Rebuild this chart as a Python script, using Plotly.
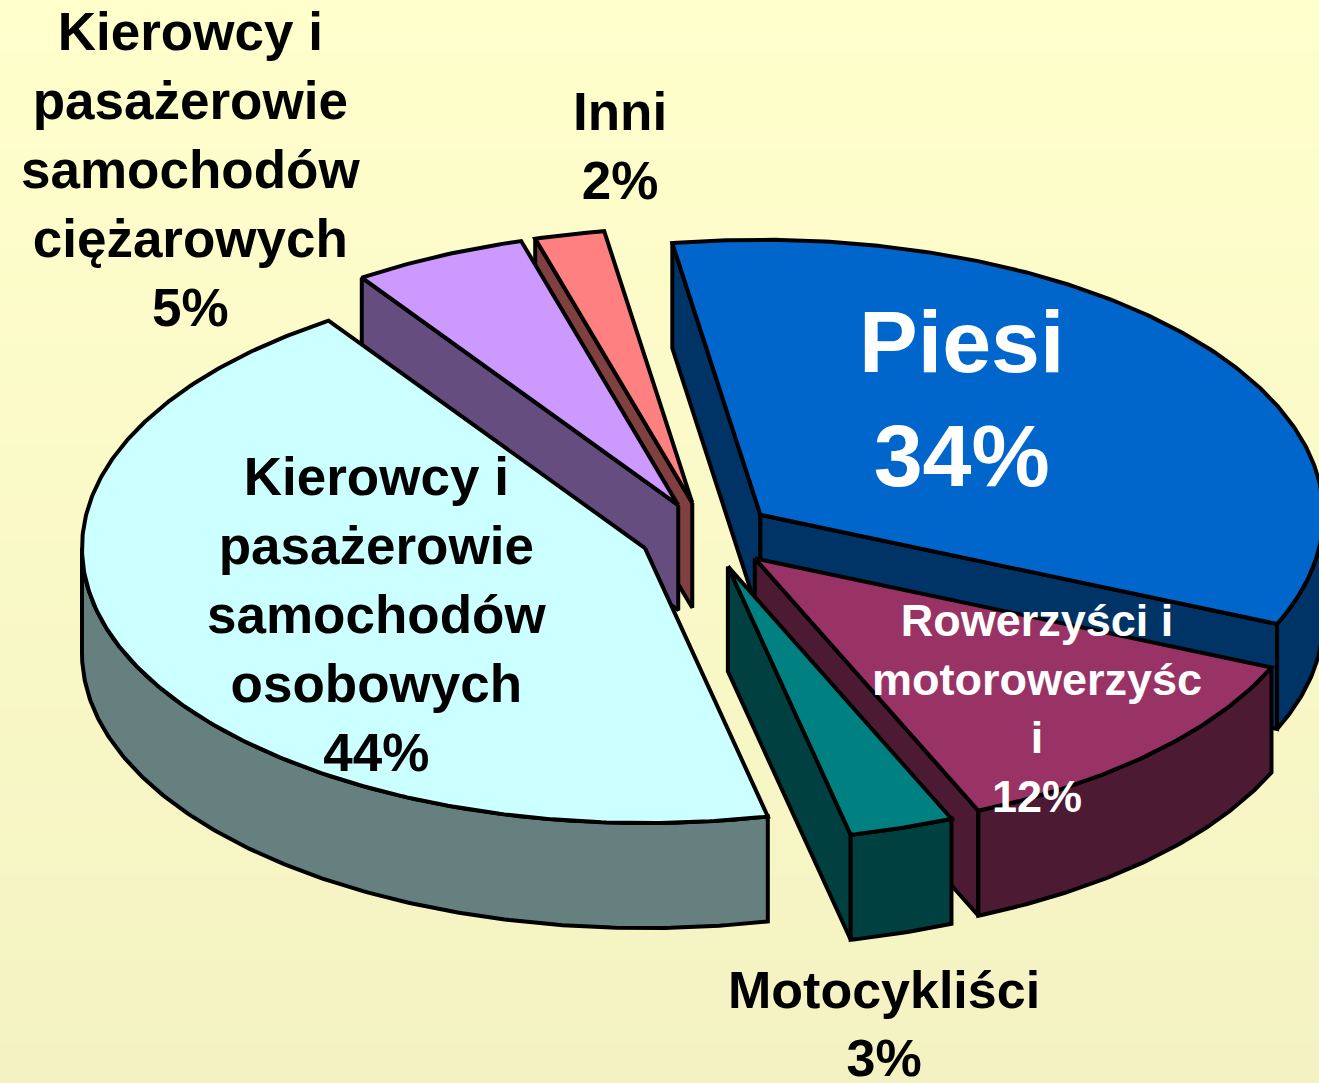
import numpy as np
import plotly.graph_objects as go

# ---------------- data ----------------
labels = [
    "Piesi",
    "Rowerzyści i<br>motorowerzyśc<br>i",
    "Motocykliści",
    "Kierowcy i<br>pasażerowie<br>samochodów<br>osobowych",
    "Kierowcy i<br>pasażerowie<br>samochodów<br>ciężarowych",
    "Inni",
]
values = [34, 12, 3, 44, 5, 2]

# ---------------- style ----------------
top_colors = ["#0066CC", "#993366", "#008080", "#CCFFFF", "#CC99FF", "#FF8080"]
side_colors = ["#003366", "#4D1A33", "#004040", "#668080", "#664D80", "#804040"]
label_pos = [(961, 398), (1037, 708), (884, 1024), (376, 614), (190, 169), (620, 146)]
label_size = [88, 45, 52, 53, 53, 53]
label_color = ["white", "white", "black", "black", "black", "black"]

W, H = 1319, 1083
CX, CY = 707, 535          # pie centre (px)
RX, RY = 563, 275          # ellipse radii (px)
DEPTH = 105                # thickness (px)
PULL = 0.12                # explode fraction
START = 99                 # start angle (deg, counter-clockwise from east), slices go clockwise
FONT = "Liberation Sans, Arial, sans-serif"

total = float(sum(values))


def pt(theta, r, ox, oy, z):
    t = np.radians(theta)
    return ox + r * RX * np.cos(t), oy - r * RY * np.sin(t) + z * DEPTH


def arc(a, b, ox, oy, z):
    n = max(2, int(abs(b - a) / 0.5) + 1)
    th = np.linspace(a, b, n)
    xs, ys = pt(th, 1.0, ox, oy, z)
    return list(xs), list(ys)


slices = []
a0 = START
for i, v in enumerate(values):
    a1 = a0 - v / total * 360.0
    m = (a0 + a1) / 2.0
    ox = CX + PULL * RX * np.cos(np.radians(m))
    oy = CY - PULL * RY * np.sin(np.radians(m))
    slices.append(dict(i=i, hi=a0, lo=a1, mid=m, ox=ox, oy=oy))
    a0 = a1

fig = go.Figure()

# background gradient
fig.add_trace(go.Heatmap(
    x=[0, W], y=[0, H], z=[[0, 0], [1, 1]],
    colorscale=[[0, "#FFFFCC"], [1, "#F4F2C2"]],
    zsmooth="best", showscale=False, hoverinfo="skip",
))


def poly(xs, ys, color):
    fig.add_trace(go.Scatter(
        x=xs + [xs[0]], y=ys + [ys[0]], mode="lines", fill="toself",
        fillcolor=color, line=dict(color="black", width=4),
        hoverinfo="skip", showlegend=False,
    ))


# painter's order: back slices first
order = sorted(slices, key=lambda s: -np.sin(np.radians(s["mid"])))
for s in order:
    i, hi, lo, ox, oy = s["i"], s["hi"], s["lo"], s["ox"], s["oy"]
    side = side_colors[i]
    # radial faces
    for ang, visible in ((hi, np.cos(np.radians(hi)) < 0), (lo, np.cos(np.radians(lo)) > 0)):
        if visible:
            ex0, ey0 = pt(ang, 1.0, ox, oy, 0)
            ex1, ey1 = pt(ang, 1.0, ox, oy, 1)
            poly([ox, ex0, ex1, ox], [oy, ey0, ey1, oy + DEPTH], side)
    # outer rim (front half)
    for k in range(-3, 2):
        r0, r1 = 180 + 360 * k, 360 + 360 * k
        a, b = max(lo, r0), min(hi, r1)
        if b - a > 0.01:
            tx, ty = arc(a, b, ox, oy, 0)
            bx, by = arc(b, a, ox, oy, 1)
            poly(tx + bx, ty + by, side)
    # top face
    tx, ty = arc(hi, lo, ox, oy, 0)
    poly([ox] + tx, [oy] + ty, top_colors[i])

# labels
for i, (lab, v) in enumerate(zip(labels, values)):
    x, y = label_pos[i]
    fig.add_annotation(
        x=x, y=y, xref="x", yref="y", showarrow=False,
        text=f"{lab}<br>{v}%", xanchor="center", yanchor="middle", align="center",
        font=dict(family=FONT, size=label_size[i], color=label_color[i], weight="bold"),
    )

fig.update_layout(
    width=W, height=H, margin=dict(l=0, r=0, t=0, b=0),
    paper_bgcolor="#FAF9C8", plot_bgcolor="#FAF9C8", showlegend=False,
    xaxis=dict(range=[0, W], visible=False, fixedrange=True),
    yaxis=dict(range=[H, 0], visible=False, fixedrange=True),
)

fig.write_html("out.html")
